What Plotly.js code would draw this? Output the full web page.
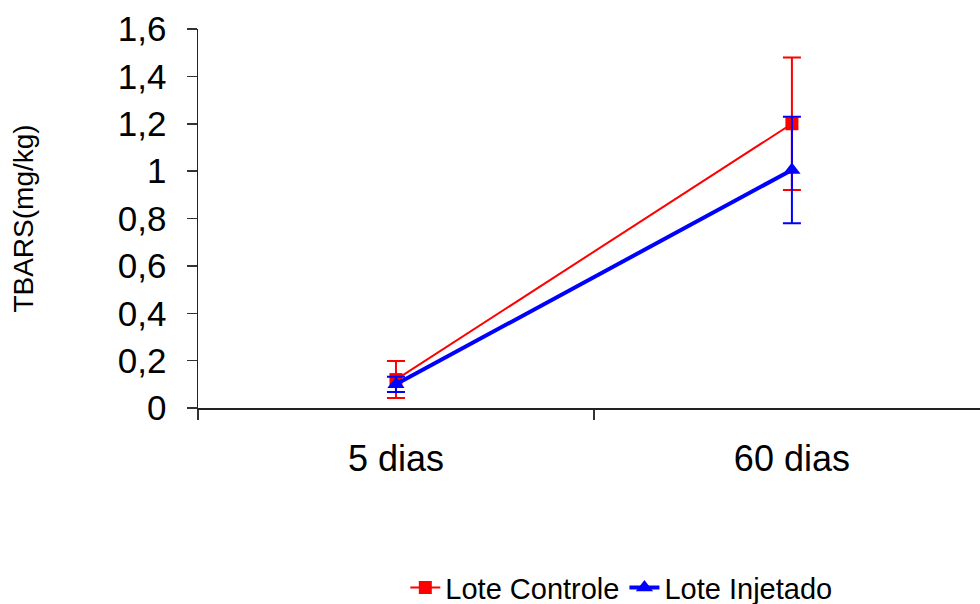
<!DOCTYPE html>
<html>
<head>
<meta charset="utf-8">
<script src="https://cdn.plot.ly/plotly-3.0.1.min.js"></script>
<style>html,body{margin:0;padding:0;overflow:hidden;background:#fff;}</style>
</head>
<body>
<div id="chart" style="width:980px;height:604px;"></div>
<script>
const categories = ["5 dias", "60 dias"];
const controleValues = [0.12, 1.2];
const controleErrors = [0.078, 0.28];
const injetadoValues = [0.1, 1.005];
const injetadoErrors = [0.032, 0.225];
const seriesNames = ["Lote Controle", "Lote Injetado"];
const yTickVals = [0, 0.2, 0.4, 0.6, 0.8, 1, 1.2, 1.4, 1.6];

const FONT = "Liberation Sans, Arial, sans-serif";

const traces = [
  {
    x: categories, y: controleValues, name: seriesNames[0], type: "scatter", mode: "lines+markers",
    line: {color: "#ff0000", width: 2},
    marker: {symbol: "square", size: 13, color: "#ff0000"},
    error_y: {type: "data", array: controleErrors, visible: true, color: "#ff0000", thickness: 2, width: 9}
  },
  {
    x: categories, y: injetadoValues, name: seriesNames[1], type: "scatter", mode: "lines+markers",
    line: {color: "#0000ff", width: 4},
    marker: {symbol: "triangle-up", size: 15, color: "#0000ff"},
    error_y: {type: "data", array: injetadoErrors, visible: true, color: "#0000ff", thickness: 2, width: 9}
  }
];

const layout = {
  width: 980, height: 604,
  margin: {l: 198, r: 0, t: 29, b: 196, autoexpand: false},
  paper_bgcolor: "#fff", plot_bgcolor: "#fff",
  separators: ", ",
  font: {family: FONT, color: "#000"},
  showlegend: true,
  legend: {
    orientation: "h", xref: "container", yref: "container",
    x: 0.634, xanchor: "center", y: 0.027, yanchor: "middle",
    font: {family: FONT, size: 29, color: "#000"},
    tracegroupgap: 0, bgcolor: "rgba(0,0,0,0)"
  },
  xaxis: {
    type: "category", range: [-0.5, 1.475], tickson: "boundaries",
    ticks: "outside", ticklen: 10, tickcolor: "#333", tickwidth: 1.5,
    showline: true, linecolor: "#222", linewidth: 1.5,
    showgrid: false, zeroline: false,
    tickfont: {family: FONT, size: 36, color: "#000"},
    ticklabelstandoff: 18
  },
  yaxis: {
    range: [0, 1.6], tickmode: "array", tickvals: yTickVals,
    ticks: "outside", ticklen: 10, tickcolor: "#333", tickwidth: 1.5,
    showline: true, linecolor: "#222", linewidth: 1.5,
    showgrid: false, zeroline: false,
    tickfont: {family: FONT, size: 35, color: "#000"},
    ticklabelstandoff: 13,
    title: {text: "TBARS(mg/kg)", font: {family: FONT, size: 28, color: "#000"}, standoff: 76}
  }
};

Plotly.newPlot("chart", traces, layout, {displayModeBar: false, staticPlot: true});
</script>
</body>
</html>
